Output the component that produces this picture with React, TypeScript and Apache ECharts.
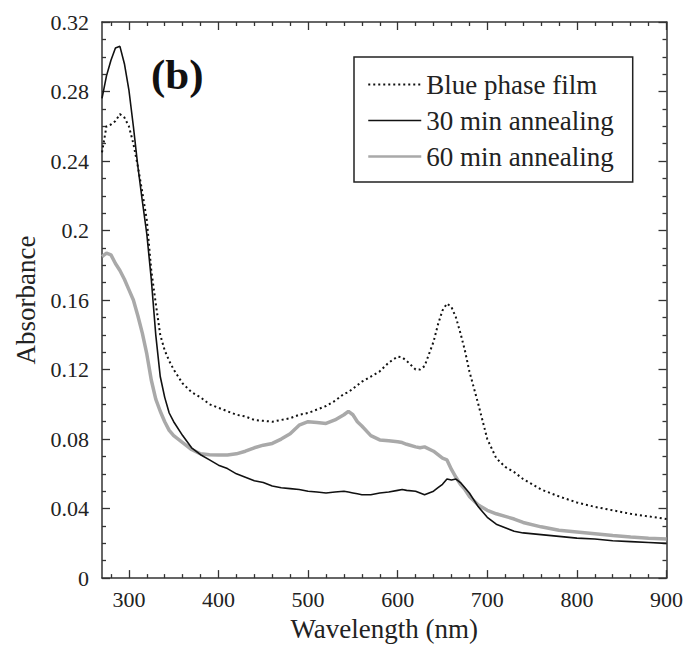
import React, { useEffect, useRef } from "react";
import * as echarts from "echarts";

const wavelengths = [
  270, 275, 280, 285, 290, 295, 300, 305, 310, 315, 320, 325, 330, 335, 340, 345, 350,
  360, 370, 380, 390, 400, 410, 420, 430, 440, 450, 460, 470, 480, 490, 500, 510, 520,
  530, 540, 545, 550, 555, 560, 570, 580, 590, 600, 605, 610, 620, 625, 630, 640, 645,
  650, 655, 660, 665, 670, 675, 680, 690, 700, 710, 720, 730, 740, 760, 780, 800, 820,
  840, 860, 880, 900,
];

const blueFilm = [
  0.245, 0.26, 0.261, 0.263, 0.267, 0.265, 0.26, 0.25, 0.237, 0.222, 0.206, 0.177, 0.158,
  0.14, 0.131, 0.125, 0.12, 0.112, 0.107, 0.104, 0.1, 0.098, 0.096, 0.094, 0.093, 0.091,
  0.0905, 0.09, 0.091, 0.092, 0.094, 0.095, 0.097, 0.099, 0.102, 0.106, 0.107, 0.109,
  0.111, 0.113, 0.116, 0.119, 0.124, 0.1275, 0.127, 0.125, 0.12, 0.12, 0.122, 0.136,
  0.146, 0.154, 0.158, 0.156, 0.15, 0.141, 0.131, 0.119, 0.1, 0.08, 0.069, 0.064, 0.061,
  0.057, 0.051, 0.047, 0.0435, 0.041, 0.039, 0.037, 0.0355, 0.034,
];

const anneal30 = [
  0.276, 0.289, 0.298, 0.305, 0.306, 0.296, 0.281, 0.26, 0.237, 0.217, 0.198, 0.172, 0.14,
  0.116, 0.104, 0.095, 0.09, 0.082, 0.075, 0.071, 0.068, 0.065, 0.063, 0.06, 0.058, 0.056,
  0.055, 0.053, 0.052, 0.0515, 0.051, 0.05, 0.0495, 0.049, 0.0495, 0.05, 0.0495, 0.049,
  0.0485, 0.048, 0.048, 0.049, 0.0495, 0.0505, 0.051, 0.0505, 0.05, 0.049, 0.048, 0.05,
  0.052, 0.054, 0.057, 0.0565, 0.057, 0.055, 0.052, 0.049, 0.041, 0.035, 0.031, 0.029,
  0.027, 0.026, 0.025, 0.024, 0.023, 0.0225, 0.0215, 0.021, 0.0205, 0.02,
];

const anneal60 = [
  0.185, 0.187, 0.186, 0.181, 0.177, 0.172, 0.166, 0.16, 0.151, 0.141, 0.129, 0.114, 0.103,
  0.096, 0.09, 0.085, 0.082, 0.078, 0.074, 0.0715, 0.071, 0.0708, 0.0709, 0.0715, 0.073,
  0.075, 0.0765, 0.0775, 0.08, 0.083, 0.088, 0.09, 0.0895, 0.089, 0.091, 0.094, 0.096,
  0.094, 0.09, 0.0875, 0.082, 0.0795, 0.079, 0.0785, 0.078, 0.077, 0.0755, 0.075, 0.0755,
  0.073, 0.071, 0.069, 0.068, 0.0625, 0.058, 0.054, 0.051, 0.047, 0.042, 0.039, 0.037,
  0.0355, 0.034, 0.032, 0.0295, 0.0275, 0.0265, 0.0255, 0.0245, 0.0237, 0.023, 0.0225,
];

const seriesNames = ["Blue phase film", "30 min annealing", "60 min annealing"];
const xMajorTicks = [300, 400, 500, 600, 700, 800, 900];
const xMinorTicks = [
  280, 320, 340, 360, 380, 420, 440, 460, 480, 520, 540, 560, 580, 620, 640, 660, 680,
  720, 740, 760, 780, 820, 840, 860, 880,
];

const FONT = "Liberation Serif";
const AXIS = "#333";
const TEXT = "#222";

const pairs = (ys: number[]) => wavelengths.map((x, i) => [x, ys[i]]);

function xAxisDef(position: "bottom" | "top", major: boolean, withLabels: boolean) {
  return {
    type: "value",
    min: 270,
    max: 900,
    position,
    axisLine: { show: major, onZero: false, lineStyle: { color: AXIS, width: 1.5 } },
    axisTick: {
      show: true,
      inside: true,
      length: major ? 8 : 4,
      customValues: major ? xMajorTicks : xMinorTicks,
      lineStyle: { color: AXIS, width: 1.3 },
    },
    axisLabel: withLabels
      ? { show: true, customValues: xMajorTicks, fontFamily: FONT, fontSize: 22, color: TEXT, margin: 10 }
      : { show: false },
    splitLine: { show: false },
    ...(withLabels
      ? {
          name: "Wavelength (nm)",
          nameLocation: "middle",
          nameGap: 31,
          nameTextStyle: { fontFamily: FONT, fontSize: 27, color: TEXT },
        }
      : {}),
  };
}

function yAxisDef(position: "left" | "right", withLabels: boolean) {
  return {
    type: "value",
    min: 0,
    max: 0.32,
    interval: 0.04,
    position,
    axisLine: { show: true, onZero: false, lineStyle: { color: AXIS, width: 1.5 } },
    axisTick: { show: true, inside: true, length: 8, lineStyle: { color: AXIS, width: 1.3 } },
    minorTick: { show: true, splitNumber: 4, length: 4, lineStyle: { color: AXIS, width: 1.3 } },
    axisLabel: withLabels
      ? { show: true, fontFamily: FONT, fontSize: 22, color: TEXT, margin: 13 }
      : { show: false },
    splitLine: { show: false },
    ...(withLabels
      ? {
          name: "Absorbance",
          nameLocation: "middle",
          nameGap: 63,
          nameRotate: 90,
          nameTextStyle: { fontFamily: FONT, fontSize: 27, color: TEXT },
        }
      : {}),
  };
}

export default function App() {
  const ref = useRef<HTMLDivElement>(null);

  useEffect(() => {
    if (!ref.current) return;
    const chart = echarts.init(ref.current, undefined, { renderer: "svg" });
    chart.setOption({
      animation: false,
      backgroundColor: "#fff",
      textStyle: { fontFamily: FONT },
      grid: { left: 102, top: 22, right: 18, bottom: 60 },
      xAxis: [
        xAxisDef("bottom", true, true),
        xAxisDef("bottom", false, false),
        xAxisDef("top", true, false),
        xAxisDef("top", false, false),
      ],
      yAxis: [yAxisDef("left", true), yAxisDef("right", false)],
      legend: {
        orient: "vertical",
        left: 354,
        top: 57,
        padding: [14, 19, 12, 13],
        itemWidth: 53,
        itemHeight: 14,
        itemGap: 9,
        borderColor: "#222",
        borderWidth: 1.5,
        backgroundColor: "#fff",
        itemStyle: { color: "rgba(0,0,0,0)", borderWidth: 0, opacity: 0 },
        textStyle: { fontFamily: FONT, fontSize: 27, color: TEXT, lineHeight: 27 },
        data: [
          { name: seriesNames[0] },
          { name: seriesNames[1], lineStyle: { width: 1.5 } },
          { name: seriesNames[2], lineStyle: { width: 2.5 } },
        ],
      },
      graphic: [
        {
          type: "text",
          left: 151,
          top: 53,
          style: { text: "(b)", fontFamily: FONT, fontWeight: "bold", fontSize: 43, fill: "#111" },
        },
      ],
      series: [
        {
          name: seriesNames[2],
          type: "line",
          data: pairs(anneal60),
          symbol: "none",
          lineStyle: { color: "#a9a9a9", width: 3.5 },
          itemStyle: { color: "#a9a9a9" },
          z: 2,
        },
        {
          name: seriesNames[1],
          type: "line",
          data: pairs(anneal30),
          symbol: "none",
          lineStyle: { color: "#111", width: 1.6 },
          itemStyle: { color: "#111" },
          z: 3,
        },
        {
          name: seriesNames[0],
          type: "line",
          data: pairs(blueFilm),
          symbol: "none",
          lineStyle: { color: "#111", width: 2, type: [2, 3] },
          itemStyle: { color: "#111" },
          z: 4,
        },
      ],
    });
    return () => chart.dispose();
  }, []);

  return (
    <div
      ref={ref}
      style={{ position: "fixed", left: 0, top: 0, width: 686, height: 647, background: "#fff" }}
    />
  );
}
